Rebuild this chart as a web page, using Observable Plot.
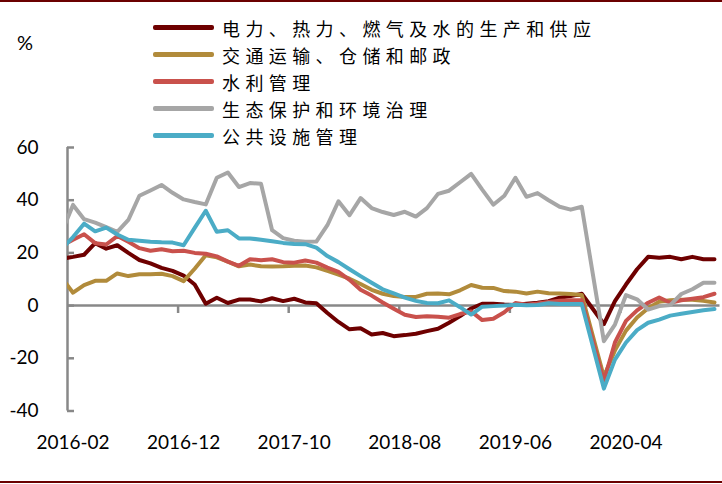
<!DOCTYPE html>
<html><head><meta charset="utf-8">
<script src="https://cdn.jsdelivr.net/npm/d3@7"></script>
<script src="https://cdn.jsdelivr.net/npm/@observablehq/plot@0.6"></script>
<style>
html,body{margin:0;padding:0;background:#fff;}
#wrap{position:relative;width:722px;height:484px;overflow:hidden;background:#fff;}
#chart{position:absolute;left:0;top:0;}
.bar{position:absolute;left:0;width:722px;height:2px;background:#6B0000;}
#legend{position:absolute;left:153px;top:14px;font-family:"Noto Sans CJK SC",sans-serif;font-size:18px;letter-spacing:5.4px;color:#000;}
.row{display:flex;align-items:center;height:27px;white-space:nowrap;}
.sw{width:61px;height:5px;border-radius:2px;margin-right:8px;flex:none;}
#unit{position:absolute;left:17px;top:30px;font-family:Lato,sans-serif;font-size:20px;color:#000;}
</style></head>
<body>
<div id="wrap">
  <div id="chart"></div>
  <div class="bar" style="top:0px"></div>
  <div class="bar" style="top:481px"></div>
  <div id="unit">%</div>
  <div id="legend"></div>
</div>
<script>
const months = ["2016-01","2016-02","2016-03","2016-04","2016-05","2016-06","2016-07","2016-08","2016-09","2016-10","2016-11","2016-12",
"2017-01","2017-02","2017-03","2017-04","2017-05","2017-06","2017-07","2017-08","2017-09","2017-10","2017-11","2017-12",
"2018-01","2018-02","2018-03","2018-04","2018-05","2018-06","2018-07","2018-08","2018-09","2018-10","2018-11","2018-12",
"2019-01","2019-02","2019-03","2019-04","2019-05","2019-06","2019-07","2019-08","2019-09","2019-10","2019-11","2019-12",
"2020-01","2020-02","2020-03","2020-04","2020-05","2020-06","2020-07","2020-08","2020-09","2020-10","2020-11","2020-12"];
const xTickLabels = ["2016-02","2016-12","2017-10","2018-08","2019-06","2020-04"];
const yTicks = [-40,-20,0,20,40,60];
const seriesNames = ["电力、热力、燃气及水的生产和供应","交通运输、仓储和邮政","水利管理","生态保护和环境治理","公共设施管理"];
const colors = ["#6E0000","#B18B3B","#C9514C","#A6A6A6","#4BACC6"];

const power = [17.8,
 18.5,19.3,23.7,21.6,22.9,20.0,17.3,16.0,14.3,13.2,
 11.4,8.0,0.7,3.0,1.0,2.3,2.3,1.6,2.8,1.7,
 2.6,1.2,0.9,-2.8,-6.2,-9.0,-8.6,-11.0,-10.4,-11.6,
 -11.2,-10.7,-9.7,-8.8,-6.5,-4.0,-1.1,0.7,0.7,0.4,
 0.2,0.7,1.1,1.7,3.0,3.6,4.5,
 null,
 -7.0,1.7,8.0,13.8,18.5,18.2,18.5,17.6,18.5,17.6,17.6];
const transport = [10.4,
 4.9,7.8,9.4,9.4,12.2,11.2,11.9,11.9,12.1,11.2,
 9.3,14.0,19.1,18.3,16.7,14.9,15.6,14.9,14.8,14.9,
 15.1,15.2,14.5,13.2,11.8,10.2,8.2,6.0,4.5,3.6,
 3.3,3.3,4.5,4.6,4.3,5.8,7.8,6.8,6.7,5.5,
 5.3,4.6,5.3,4.7,4.6,4.4,4.0,
 null,
 -27.0,-17.0,-9.5,-4.5,-1.0,1.5,2.0,2.2,2.2,1.8,1.2];
const water = [22.8,
 25.0,27.1,23.7,23.2,26.4,24.2,21.8,20.8,21.4,20.6,
 20.8,20.0,19.7,18.7,16.7,15.1,17.6,17.2,17.6,16.5,
 16.3,17.1,16.3,14.4,12.8,9.8,6.0,3.8,1.2,-1.2,
 -3.5,-4.3,-4.0,-4.2,-4.6,-3.2,-2.2,-5.5,-5.0,-2.5,
 1.0,0.3,0.8,1.4,1.8,2.0,2.0,
 null,
 -28.6,-14.0,-5.8,-1.8,1.1,3.1,1.1,2.0,2.6,3.2,4.5];
const ecology = [28.1,
 38.2,32.8,31.5,29.8,28.0,32.5,41.7,43.7,45.8,42.8,
 40.3,39.3,38.4,48.5,50.5,45.0,46.5,46.2,28.6,25.6,
 24.6,24.2,24.3,30.5,39.6,34.3,40.8,37.0,35.5,34.4,
 35.6,33.8,37.0,42.4,43.6,46.8,50.0,44.0,38.3,41.7,
 48.5,41.3,42.7,40.0,37.5,36.4,37.5,
 null,
 -13.5,-7.2,4.0,2.4,-1.5,-0.2,0.2,4.4,6.2,8.7,8.7];
const utilities = [21.6,
 26.0,31.1,28.2,29.6,27.0,25.0,24.6,24.2,24.0,23.9,
 22.9,29.5,36.0,28.0,28.6,25.5,25.5,25.0,24.4,23.8,
 23.4,23.3,22.0,18.8,16.5,13.8,11.2,8.7,6.2,4.6,
 3.0,1.8,1.0,0.9,2.0,-0.6,-3.4,-0.4,-0.2,0.0,
 0.3,0.1,0.2,0.9,0.6,0.6,0.6,
 null,
 -31.5,-20.5,-14.0,-9.3,-6.5,-5.3,-3.8,-3.1,-2.4,-1.8,-1.3];

const seriesValues = [power, transport, water, ecology, utilities];
const rows = seriesValues.flatMap((vals, s) =>
  vals.map((v, j) => ({j, v, s: seriesNames[s]})).filter(d => d.v != null));

const labelIdx = xTickLabels.map(l => months.indexOf(l));
const boundaries = labelIdx.slice(1).map(i => i - 0.5);
const xDomain = [labelIdx[0] - 0.5, months.length - 0.5];
const axisColor = "#888888";

const chart = Plot.plot({
  width: 722,
  height: 484,
  marginLeft: 67,
  marginRight: 2.5,
  marginTop: 147,
  marginBottom: 73.5,
  style: {fontFamily: "Lato, sans-serif", fontSize: "19px", color: "#000", background: "transparent", overflow: "visible"},
  x: {domain: xDomain, label: null},
  y: {domain: [yTicks[0], yTicks[yTicks.length - 1]], label: null},
  color: {domain: seriesNames, range: colors},
  marks: [
    Plot.axisY({ticks: yTicks, tickSize: 0, tickPadding: 29, tickFormat: d => String(d), label: null}),
    Plot.axisY({ticks: yTicks, tickSize: 7, dx: 7, tickFormat: () => "", stroke: axisColor, strokeWidth: 2.5, label: null}),
    Plot.axisX({ticks: labelIdx, tickSize: 0, tickPadding: 24, tickFormat: i => months[i], label: null}),
    Plot.ruleX(boundaries, {y1: 0, y2: -3, stroke: axisColor, strokeWidth: 2.5}),
    Plot.ruleY([0], {stroke: axisColor, strokeWidth: 2.5}),
    Plot.ruleX([xDomain[0]], {stroke: axisColor, strokeWidth: 2.5}),
    Plot.line(rows, {x: "j", y: "v", z: "s", stroke: "s", strokeWidth: 4, strokeLinejoin: "round", clip: true})
  ]
});
document.getElementById("chart").appendChild(chart);

const legend = document.getElementById("legend");
seriesNames.forEach((name, k) => {
  const row = document.createElement("div");
  row.className = "row";
  const sw = document.createElement("div");
  sw.className = "sw";
  sw.style.background = colors[k];
  const tx = document.createElement("span");
  tx.textContent = name;
  row.appendChild(sw);
  row.appendChild(tx);
  legend.appendChild(row);
});
</script>
</body></html>
